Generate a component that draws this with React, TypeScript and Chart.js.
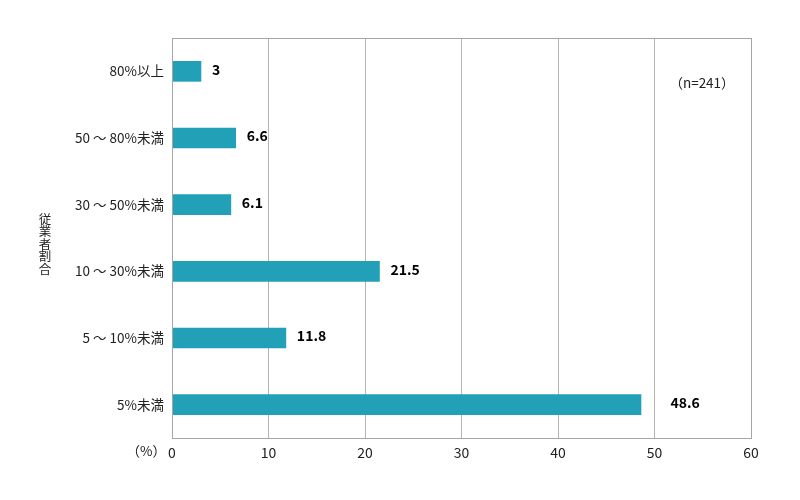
import React, { useEffect, useRef } from "react";
import { Chart, registerables } from "chart.js";

Chart.register(...registerables);

const categories = [
  "80%以上",
  "50 ～ 80%未満",
  "30 ～ 50%未満",
  "10 ～ 30%未満",
  "5 ～ 10%未満",
  "5%未満",
];
const shares = [3, 6.6, 6.1, 21.5, 11.8, 48.6];
const xTicks = [0, 10, 20, 30, 40, 50, 60];
const yTitle = "従業者割合";
const unitLabel = "（%）";
const sampleNote = "（n=241）";

const FONT = "'Noto Sans CJK JP', 'Noto Sans', sans-serif";
const BAR = "#21A0B8";
const GRID = "#B4B4B4";

const extrasPlugin = {
  id: "extras",
  afterDatasetsDraw(chart: any) {
    const { ctx, chartArea, scales } = chart;
    const xs = scales.x;
    ctx.save();
    // frame
    ctx.strokeStyle = "#A6A6A6";
    ctx.lineWidth = 1;
    ctx.strokeRect(
      Math.round(chartArea.left) + 0.5,
      Math.round(chartArea.top) + 0.5,
      Math.round(chartArea.right - chartArea.left),
      Math.round(chartArea.bottom - chartArea.top)
    );
    // value labels
    ctx.fillStyle = "#000";
    ctx.font = `bold 14px ${FONT}`;
    ctx.textBaseline = "middle";
    ctx.textAlign = "left";
    const meta = chart.getDatasetMeta(0);
    meta.data.forEach((bar: any, i: number) => {
      let x = bar.x + 11;
      xTicks.forEach((t) => {
        const gx = xs.getPixelForValue(t);
        if (t > 0 && x > gx - 8 && x < gx + 4) x = gx + 16;
      });
      ctx.fillText(String(shares[i]), x, bar.y - 2);
    });
    // vertical y title, stacked characters
    ctx.fillStyle = "#222";
    ctx.font = `12.5px ${FONT}`;
    ctx.textAlign = "center";
    const chars = Array.from(yTitle);
    const step = 12.5;
    const cy = 244;
    chars.forEach((c, i) => {
      ctx.fillText(c, 45, cy + (i - (chars.length - 1) / 2) * step);
    });
    // unit and sample size
    ctx.font = `13.5px ${FONT}`;
    ctx.fillStyle = "#222";
    ctx.textAlign = "right";
    ctx.fillText(unitLabel, 166, 451);
    ctx.textAlign = "center";
    ctx.fillText(sampleNote, 702, 83);
    ctx.restore();
  },
};

const App = () => {
  const canvasRef = useRef<HTMLCanvasElement | null>(null);

  useEffect(() => {
    document.body.style.margin = "0";
    const ctx = canvasRef.current?.getContext("2d") as CanvasRenderingContext2D;
    const chart = new Chart(ctx, {
      type: "bar",
      data: {
        labels: categories,
        datasets: [
          {
            data: shares,
            backgroundColor: BAR,
            barThickness: 20,
          },
        ],
      },
      options: {
        indexAxis: "y",
        animation: false,
        responsive: false,
        maintainAspectRatio: false,
        layout: { padding: { left: 0, top: 38, right: 49, bottom: 0 } },
        plugins: {
          legend: { display: false },
          tooltip: { enabled: false },
        },
        scales: {
          x: {
            min: 0,
            max: 60,
            afterBuildTicks: (s: any) => {
              s.ticks = xTicks.map((v) => ({ value: v }));
            },
            afterFit: (s: any) => {
              s.height = 62;
            },
            grid: {
              color: (c: any) => (c.tick && c.tick.value === 0 ? "#8C8C8C" : GRID),
              drawTicks: false,
            },
            border: { display: false },
            ticks: {
              color: "#222",
              padding: 6,
              font: { family: FONT, size: 14 },
            },
          },
          y: {
            afterFit: (s: any) => {
              s.width = 172;
            },
            grid: { display: false, drawTicks: false },
            border: { display: true, color: "#8C8C8C" },
            ticks: {
              color: "#222",
              padding: 8,
              font: { family: FONT, size: 13.5 },
            },
          },
        },
      },
      plugins: [extrasPlugin],
    } as any);

    return () => {
      chart.destroy();
    };
  }, []);

  return (
    <div style={{ width: 800, height: 500, background: "#fff" }}>
      <canvas ref={canvasRef} width={800} height={500} style={{ display: "block" }} />
    </div>
  );
};

export default App;
